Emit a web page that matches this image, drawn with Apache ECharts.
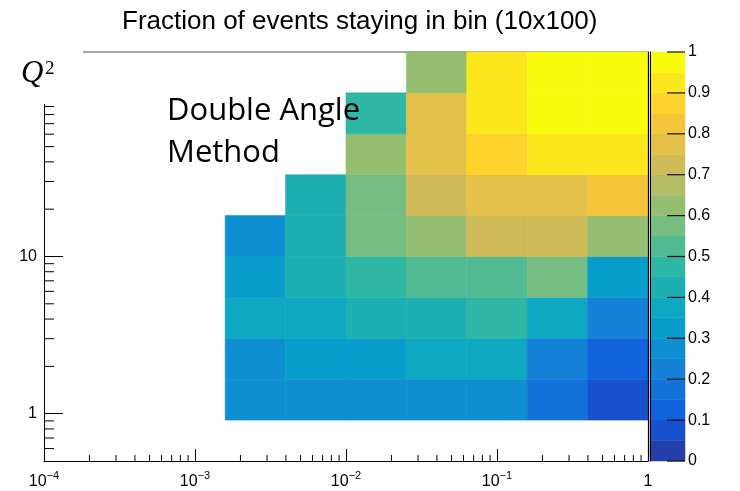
<!DOCTYPE html>
<html>
<head>
<meta charset="utf-8">
<script src="https://cdn.jsdelivr.net/npm/echarts@6/dist/echarts.min.js"></script>
<style>
html,body{margin:0;padding:0;background:#fff;}
#chart{width:740px;height:491px;}
</style>
</head>
<body>
<div id="chart"></div>
<script>
// Bin edges of the 10x10 histogram: x from 1e-4 to 1, Q^2 from 0.5 to 200 (equal widths in log)
const xEdges = [1e-4, 2.512e-4, 6.310e-4, 1.585e-3, 3.981e-3, 1e-2, 2.512e-2, 6.310e-2, 0.1585, 0.3981, 1];
const q2Edges = [0.5, 0.9103, 1.657, 3.017, 5.493, 10.0, 18.21, 33.15, 60.35, 109.9, 200];

// Fraction of events staying in bin, one row per Q^2 bin (lowest first); null = empty bin
const fracRow0 = [null, null, null, null, null, null, null, null, null, null];
const fracRow1 = [null, null, null, 0.27, 0.27, 0.27, 0.27, 0.27, 0.17, 0.08];
const fracRow2 = [null, null, null, 0.27, 0.32, 0.32, 0.37, 0.37, 0.22, 0.12];
const fracRow3 = [null, null, null, 0.37, 0.37, 0.42, 0.42, 0.47, 0.37, 0.22];
const fracRow4 = [null, null, null, 0.32, 0.42, 0.47, 0.52, 0.52, 0.57, 0.32];
const fracRow5 = [null, null, null, 0.27, 0.42, 0.57, 0.62, 0.72, 0.72, 0.62];
const fracRow6 = [null, null, null, null, 0.42, 0.57, 0.72, 0.77, 0.77, 0.82];
const fracRow7 = [null, null, null, null, null, 0.62, 0.78, 0.87, 0.92, 0.92];
const fracRow8 = [null, null, null, null, null, 0.47, 0.78, 0.92, 0.97, 0.97];
const fracRow9 = [null, null, null, null, null, null, 0.62, 0.92, 0.97, 0.97];
const fracRows = [fracRow0, fracRow1, fracRow2, fracRow3, fracRow4, fracRow5, fracRow6, fracRow7, fracRow8, fracRow9];

// Colour contours (20 levels) and the bird palette colour for each band
const contourLevels = [0, 0.05, 0.1, 0.15, 0.2, 0.25, 0.3, 0.35, 0.4, 0.45, 0.5,
                       0.55, 0.6, 0.65, 0.7, 0.75, 0.8, 0.85, 0.9, 0.95, 1];
const bandColors = ['#263eaa', '#1752cc', '#1063dc', '#1272d9', '#1481d6', '#0e8fd1', '#099dcc', '#0ea8c2', '#1eafb3', '#2eb7a4',
                    '#52ba92', '#75bd80', '#96be71', '#b3bd65', '#d1bb59', '#e3c04a', '#f5c63a', '#fdd32b', '#fbe71c', '#f9fb0e'];

// Axis tick positions
const xDecades = [1e-4, 1e-3, 1e-2, 1e-1];
const q2Decades = [0.1, 1, 10, 100];
const minorSteps = [2, 3, 4, 5, 6, 7, 8, 9];
const paletteTicks = [0, 0.1, 0.2, 0.3, 0.4, 0.5, 0.6, 0.7, 0.8, 0.9, 1];

const FONT = '"Liberation Sans", Arial, Helvetica, sans-serif';

function bandColor(v) {
  for (let i = 0; i < bandColors.length; i++) {
    if (v < contourLevels[i + 1]) return bandColors[i];
  }
  return bandColors[bandColors.length - 1];
}

// Cells: [xLow, q2Low, xHigh, q2High, fraction]
const cellData = [];
fracRows.forEach(function (row, j) {
  row.forEach(function (v, i) {
    if (v !== null) cellData.push([xEdges[i], q2Edges[j], xEdges[i + 1], q2Edges[j + 1], v]);
  });
});

// Minor ticks on both log axes
const xMinor = [];
xDecades.forEach(function (d) { minorSteps.forEach(function (m) { xMinor.push([d * m, 1]); }); });
const yMinor = [];
q2Decades.forEach(function (d) {
  minorSteps.forEach(function (m) {
    const v = d * m;
    if (v > 0.5 && v < 200) yMinor.push([1e-4, v]);
  });
});

// Colour bar bands: [0, low, 1, high, band]
const barData = [];
for (let i = 0; i < bandColors.length; i++) barData.push([0, contourLevels[i], 1, contourLevels[i + 1], i]);
const barTickData = paletteTicks.map(function (t) { return [1, t]; });

const chart = echarts.init(document.getElementById('chart'), null, { renderer: 'canvas' });

const option = {
  backgroundColor: '#ffffff',
  animation: false,
  title: {
    text: 'Fraction of events staying in bin (10x100)',
    left: 117,
    top: 4,
    textStyle: { fontFamily: FONT, fontSize: 26, fontWeight: 'normal', color: '#000' }
  },
  grid: [
    { left: 44, top: 52, width: 604, height: 409, containLabel: false, outerBoundsMode: 'none' },
    { left: 650, top: 52, width: 35, height: 409, containLabel: false, outerBoundsMode: 'none' }
  ],
  xAxis: [
    {
      gridIndex: 0, type: 'log', logBase: 10, min: 1e-4, max: 1,
      axisLine: { show: true, lineStyle: { color: '#000', width: 1 } },
      axisTick: { show: true, inside: true, length: 12, lineStyle: { color: '#000', width: 1 } },
      splitLine: { show: false },
      axisLabel: {
        show: true, margin: 9, hideOverlap: false, showMinLabel: true, showMaxLabel: true,
        formatter: function (v) {
          const e = Math.round(Math.log10(v));
          if (e === 0) return '{b|1}';
          return '{b|10}{e|' + (e < 0 ? '\u2212' : '') + Math.abs(e) + '}';
        },
        rich: {
          b: { fontFamily: FONT, fontSize: 16, color: '#000', verticalAlign: 'bottom', lineHeight: 20 },
          e: { fontFamily: FONT, fontSize: 11, color: '#000', verticalAlign: 'top', lineHeight: 12 }
        }
      }
    },
    {
      gridIndex: 0, type: 'log', logBase: 10, min: 1e-4, max: 1, position: 'top',
      axisLine: { show: true, lineStyle: { color: '#8a8a8a', width: 1.5 } },
      axisTick: { show: false }, axisLabel: { show: false }, splitLine: { show: false }
    },
    {
      gridIndex: 1, type: 'value', min: 0, max: 1, show: false
    }
  ],
  yAxis: [
    {
      gridIndex: 0, type: 'log', logBase: 10, min: 0.5, max: 200,
      axisLine: { show: true, lineStyle: { color: '#000', width: 1 } },
      axisTick: { show: true, inside: true, length: 19, lineStyle: { color: '#000', width: 1 } },
      splitLine: { show: false },
      axisLabel: {
        show: true, margin: 7, hideOverlap: false,
        fontFamily: FONT, fontSize: 16, color: '#000',
        formatter: function (v) {
          const e = Math.log10(v);
          if (Math.abs(e - Math.round(e)) > 1e-6) return '';
          return String(Math.round(v));
        }
      }
    },
    {
      gridIndex: 0, type: 'log', logBase: 10, min: 0.5, max: 200, position: 'right', z: 10,
      axisLine: { show: true, lineStyle: { color: '#000', width: 1.2 } },
      axisTick: { show: false }, axisLabel: { show: false }, splitLine: { show: false }
    },
    {
      gridIndex: 1, type: 'value', min: 0, max: 1, interval: 0.1, position: 'right', z: 10,
      axisLine: { show: true, lineStyle: { color: '#000', width: 1 } },
      axisTick: { show: false },
      splitLine: { show: false },
      axisLabel: { show: true, margin: 3, fontFamily: FONT, fontSize: 16, color: '#000', hideOverlap: false }
    }
  ],
  series: [
    {
      type: 'custom', name: 'cells', xAxisIndex: 0, yAxisIndex: 0, silent: true, z: 2,
      data: cellData,
      encode: { x: [0, 2], y: [1, 3] },
      renderItem: function (params, api) {
        const p0 = api.coord([api.value(0), api.value(1)]);
        const p1 = api.coord([api.value(2), api.value(3)]);
        const c = bandColor(api.value(4));
        return {
          type: 'rect',
          shape: { x: p0[0], y: p1[1], width: p1[0] - p0[0], height: p0[1] - p1[1] },
          style: { fill: c, stroke: c, lineWidth: 0.6 }
        };
      }
    },
    {
      type: 'custom', name: 'xMinorTicks', xAxisIndex: 0, yAxisIndex: 0, silent: true, z: 3,
      data: xMinor,
      renderItem: function (params, api) {
        const p = api.coord([api.value(0), 0.5]);
        return { type: 'line', shape: { x1: p[0], y1: p[1], x2: p[0], y2: p[1] - 6 }, style: { stroke: '#000', lineWidth: 1 } };
      }
    },
    {
      type: 'custom', name: 'yMinorTicks', xAxisIndex: 0, yAxisIndex: 0, silent: true, z: 3,
      data: yMinor,
      renderItem: function (params, api) {
        const p = api.coord([1e-4, api.value(1)]);
        return { type: 'line', shape: { x1: p[0], y1: p[1], x2: p[0] + 10, y2: p[1] }, style: { stroke: '#000', lineWidth: 1 } };
      }
    },
    {
      type: 'custom', name: 'palette', xAxisIndex: 2, yAxisIndex: 2, silent: true, z: 2,
      data: barData,
      encode: { x: [0, 2], y: [1, 3] },
      renderItem: function (params, api) {
        const p0 = api.coord([api.value(0), api.value(1)]);
        const p1 = api.coord([api.value(2), api.value(3)]);
        const c = bandColors[api.value(4)];
        return {
          type: 'rect',
          shape: { x: p0[0], y: p1[1], width: p1[0] - p0[0], height: p0[1] - p1[1] },
          style: { fill: c, stroke: c, lineWidth: 0.5 }
        };
      }
    },
    {
      type: 'custom', name: 'paletteTicks', xAxisIndex: 2, yAxisIndex: 2, silent: true, z: 5,
      data: barTickData,
      renderItem: function (params, api) {
        const p = api.coord([1, api.value(1)]);
        return { type: 'line', shape: { x1: p[0], y1: p[1], x2: p[0] - 18, y2: p[1] }, style: { stroke: '#111', lineWidth: 1.2 } };
      }
    }
  ],
  graphic: [
    { type: 'rect', z: 100, shape: { x: 0, y: 36, width: 83, height: 68 }, style: { fill: '#ffffff' } },
    { type: 'text', z: 110, x: 21, y: 58, style: { text: 'Q', font: 'italic 31px "Liberation Serif", serif', fill: '#000' } },
    { type: 'text', z: 110, x: 45, y: 60, style: { text: '2', font: '19px "Liberation Serif", serif', fill: '#000' } },
    { type: 'text', z: 110, x: 167, y: 90, style: { text: 'Double Angle\nMethod', font: '31px "Open Sans", sans-serif', lineHeight: 42, fill: '#000' } }
  ]
};

chart.setOption(option);
</script>
</body>
</html>
